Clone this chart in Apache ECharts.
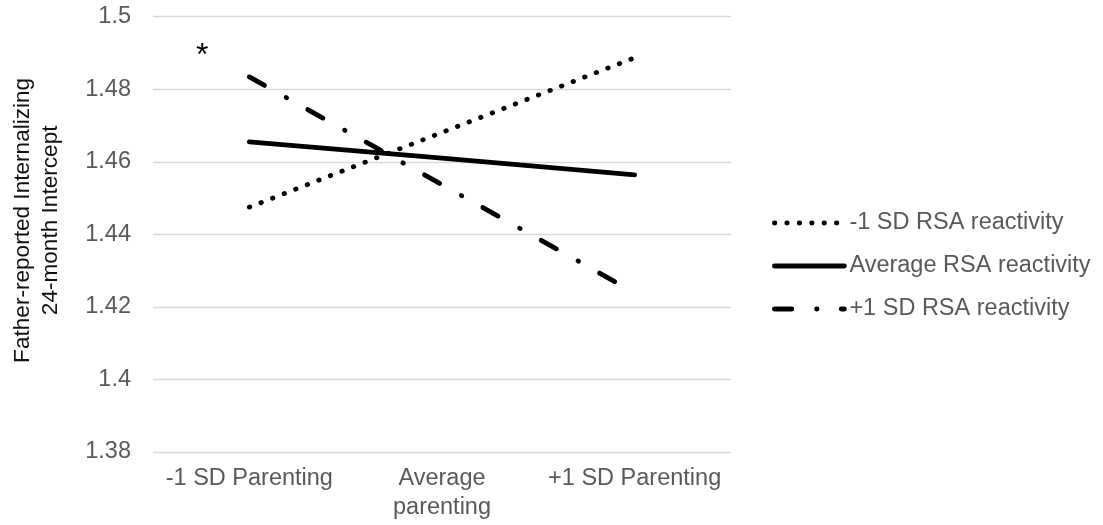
<!DOCTYPE html>
<html>
<head>
<meta charset="utf-8">
<script src="https://cdn.jsdelivr.net/npm/echarts@6/dist/echarts.min.js"></script>
<style>
html,body{margin:0;padding:0;background:#fff;}
#chart{width:1103px;height:525px;}
</style>
</head>
<body>
<div id="chart"></div>
<script>
var categories = ['-1 SD Parenting', 'Average\nparenting', '+1 SD Parenting'];
var seriesNames = ['-1 SD RSA reactivity', 'Average RSA reactivity', '+1 SD RSA reactivity'];
var lowRSA = [1.4475, 1.4681, 1.4887];
var avgRSA = [1.4655, 1.4610, 1.4564];
var highRSA = [1.4834, 1.4537, 1.4239];
var yTicks = { min: 1.38, max: 1.5, interval: 0.02 };
var yTitle = 'Father-reported Internalizing\n24-month Intercept';
var annotation = { text: '*', category: 0, value: 1.49 };

var FONT = '"Liberation Sans", Arial, sans-serif';
var chart = echarts.init(document.getElementById('chart'), null, {renderer: 'canvas'});

function lineSeries(name, data, type, extra) {
  var s = {
    name: name,
    type: 'line',
    data: data,
    symbol: 'none',
    smooth: false,
    lineStyle: { color: '#000', width: 4.8, type: type, cap: 'round' },
    itemStyle: { color: '#000' },
    emphasis: { disabled: true },
    animation: false
  };
  if (extra) Object.assign(s, extra);
  return s;
}

var option = {
  backgroundColor: '#fff',
  animation: false,
  textStyle: { fontFamily: FONT },
  grid: { left: 153, right: 372, top: 16.7, bottom: 73, containLabel: false, outerBoundsMode: 'none' },
  legend: {
    orient: 'vertical',
    left: 767,
    top: 206,
    itemWidth: 70,
    itemHeight: 14,
    itemGap: 19,
    itemStyle: { opacity: 0 },
    lineStyle: { width: 4.8, cap: 'round', color: '#000' },
    textStyle: { fontSize: 23.5, color: '#595959', fontFamily: FONT },
    data: seriesNames
  },
  xAxis: {
    type: 'category',
    data: categories,
    boundaryGap: true,
    axisLine: { show: false },
    axisTick: { show: false },
    axisLabel: { interval: 0, fontSize: 23.5, color: '#595959', margin: 12, lineHeight: 29, fontFamily: FONT },
    splitLine: { show: false }
  },
  yAxis: {
    type: 'value',
    min: yTicks.min,
    max: yTicks.max,
    interval: yTicks.interval,
    name: yTitle,
    nameLocation: 'middle',
    nameRotate: 90,
    nameGap: 88,
    nameTextStyle: { fontSize: 22.6, color: '#111', lineHeight: 28, fontFamily: FONT, padding: [0, 0, 0, 28] },
    axisLine: { show: false },
    axisTick: { show: false },
    axisLabel: { fontSize: 23.5, color: '#595959', margin: 22, fontFamily: FONT },
    splitLine: { lineStyle: { color: '#d9d9d9', width: 1.3 } }
  },
  series: [
    lineSeries(seriesNames[0], lowRSA, [0.5, 11.9]),
    lineSeries(seriesNames[1], avgRSA, 'solid'),
    lineSeries(seriesNames[2], highRSA, [17.4, 24.8, 0.5, 24.2], {
      markPoint: {
        silent: true,
        symbol: 'circle',
        symbolSize: 1,
        itemStyle: { color: 'rgba(0,0,0,0)' },
        label: { show: true, formatter: annotation.text, position: 'inside', offset: [-47, 3], fontSize: 32, color: '#000', fontFamily: FONT },
        data: [{ coord: [annotation.category, annotation.value] }]
      }
    })
  ]
};
chart.setOption(option);
</script>
</body>
</html>
